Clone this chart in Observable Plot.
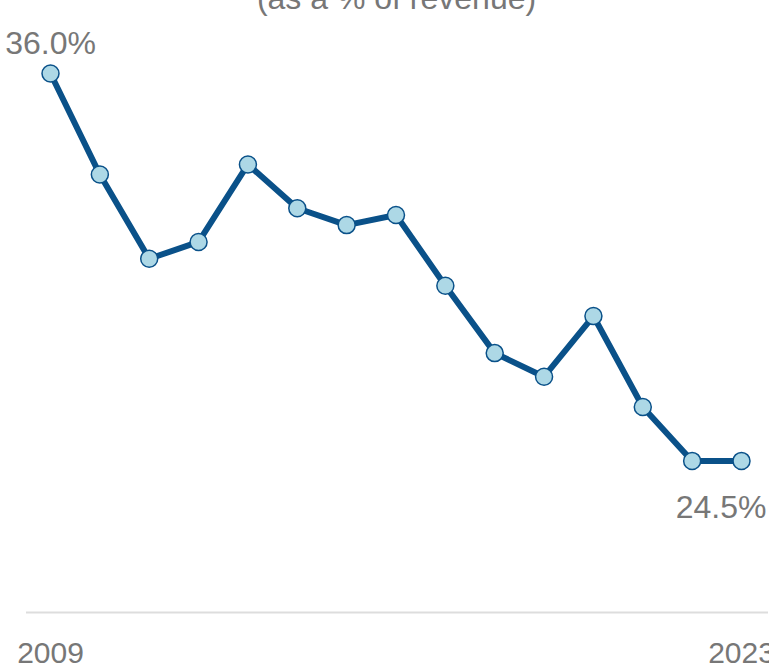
<!DOCTYPE html>
<html>
<head>
<meta charset="utf-8">
<script src="https://cdn.jsdelivr.net/npm/d3@7"></script>
<script src="https://cdn.jsdelivr.net/npm/@observablehq/plot@0.6"></script>
<style>
  html, body { margin: 0; padding: 0; background: #fff; overflow: hidden; }
  body { width: 769px; height: 669px; font-family: "Liberation Sans", Arial, sans-serif; }
  #subtitle { font-size: 32px; line-height: 31px; height: 31px; margin-top: -17px; text-align: center; color: #777; padding-left: 24px; white-space: nowrap; }
</style>
</head>
<body>
<div id="subtitle">(as a % of revenue)</div>
<div id="chart"></div>
<script>
const years = [2009, 2010, 2011, 2012, 2013, 2014, 2015, 2016, 2017, 2018, 2019, 2020, 2021, 2022, 2023];
const values = [36.0, 33.0, 30.5, 31.0, 33.3, 32.0, 31.5, 31.8, 29.7, 27.7, 27.0, 28.8, 26.1, 24.5, 24.5];
const tickYears = [2009, 2023];
const yDomain = [20, 36];

const data = years.map((year, i) => ({year, value: values[i]}));
const first = data[0];
const last = data[data.length - 1];

const chart = Plot.plot({
  width: 769,
  height: 655,
  marginTop: 59,
  marginBottom: 57,
  marginLeft: 50,
  marginRight: 28,
  style: {fontFamily: "'Liberation Sans', Arial, sans-serif", background: "#fff", overflow: "visible"},
  x: {domain: [years[0], years[years.length - 1]], axis: null},
  y: {domain: yDomain, axis: null},
  marks: [
    Plot.ruleY([yDomain[0]], {stroke: "#dddddd", strokeWidth: 2, insetLeft: -24, insetRight: -27}),
    Plot.axisX({ticks: tickYears, tickFormat: d => String(d), label: null, tickSize: 0, tickPadding: 29, fontSize: 30, fill: "#777", stroke: null}),
    Plot.line(data, {x: "year", y: "value", stroke: "#0a5189", strokeWidth: 6, curve: "linear"}),
    Plot.dot(data, {x: "year", y: "value", r: 8.5, fill: "#add8e6", stroke: "#0a5189", strokeWidth: 1.5}),
    Plot.text([first], {x: "year", y: "value", text: d => d.value.toFixed(1) + "%", lineAnchor: "bottom", dy: -20, fontSize: 32, fill: "#777"}),
    Plot.text([last], {x: "year", y: "value", text: d => d.value.toFixed(1) + "%", lineAnchor: "bottom", textAnchor: "end", dx: 25, dy: 57, fontSize: 32, fill: "#777"})
  ]
});
document.getElementById("chart").appendChild(chart);
</script>
</body>
</html>
